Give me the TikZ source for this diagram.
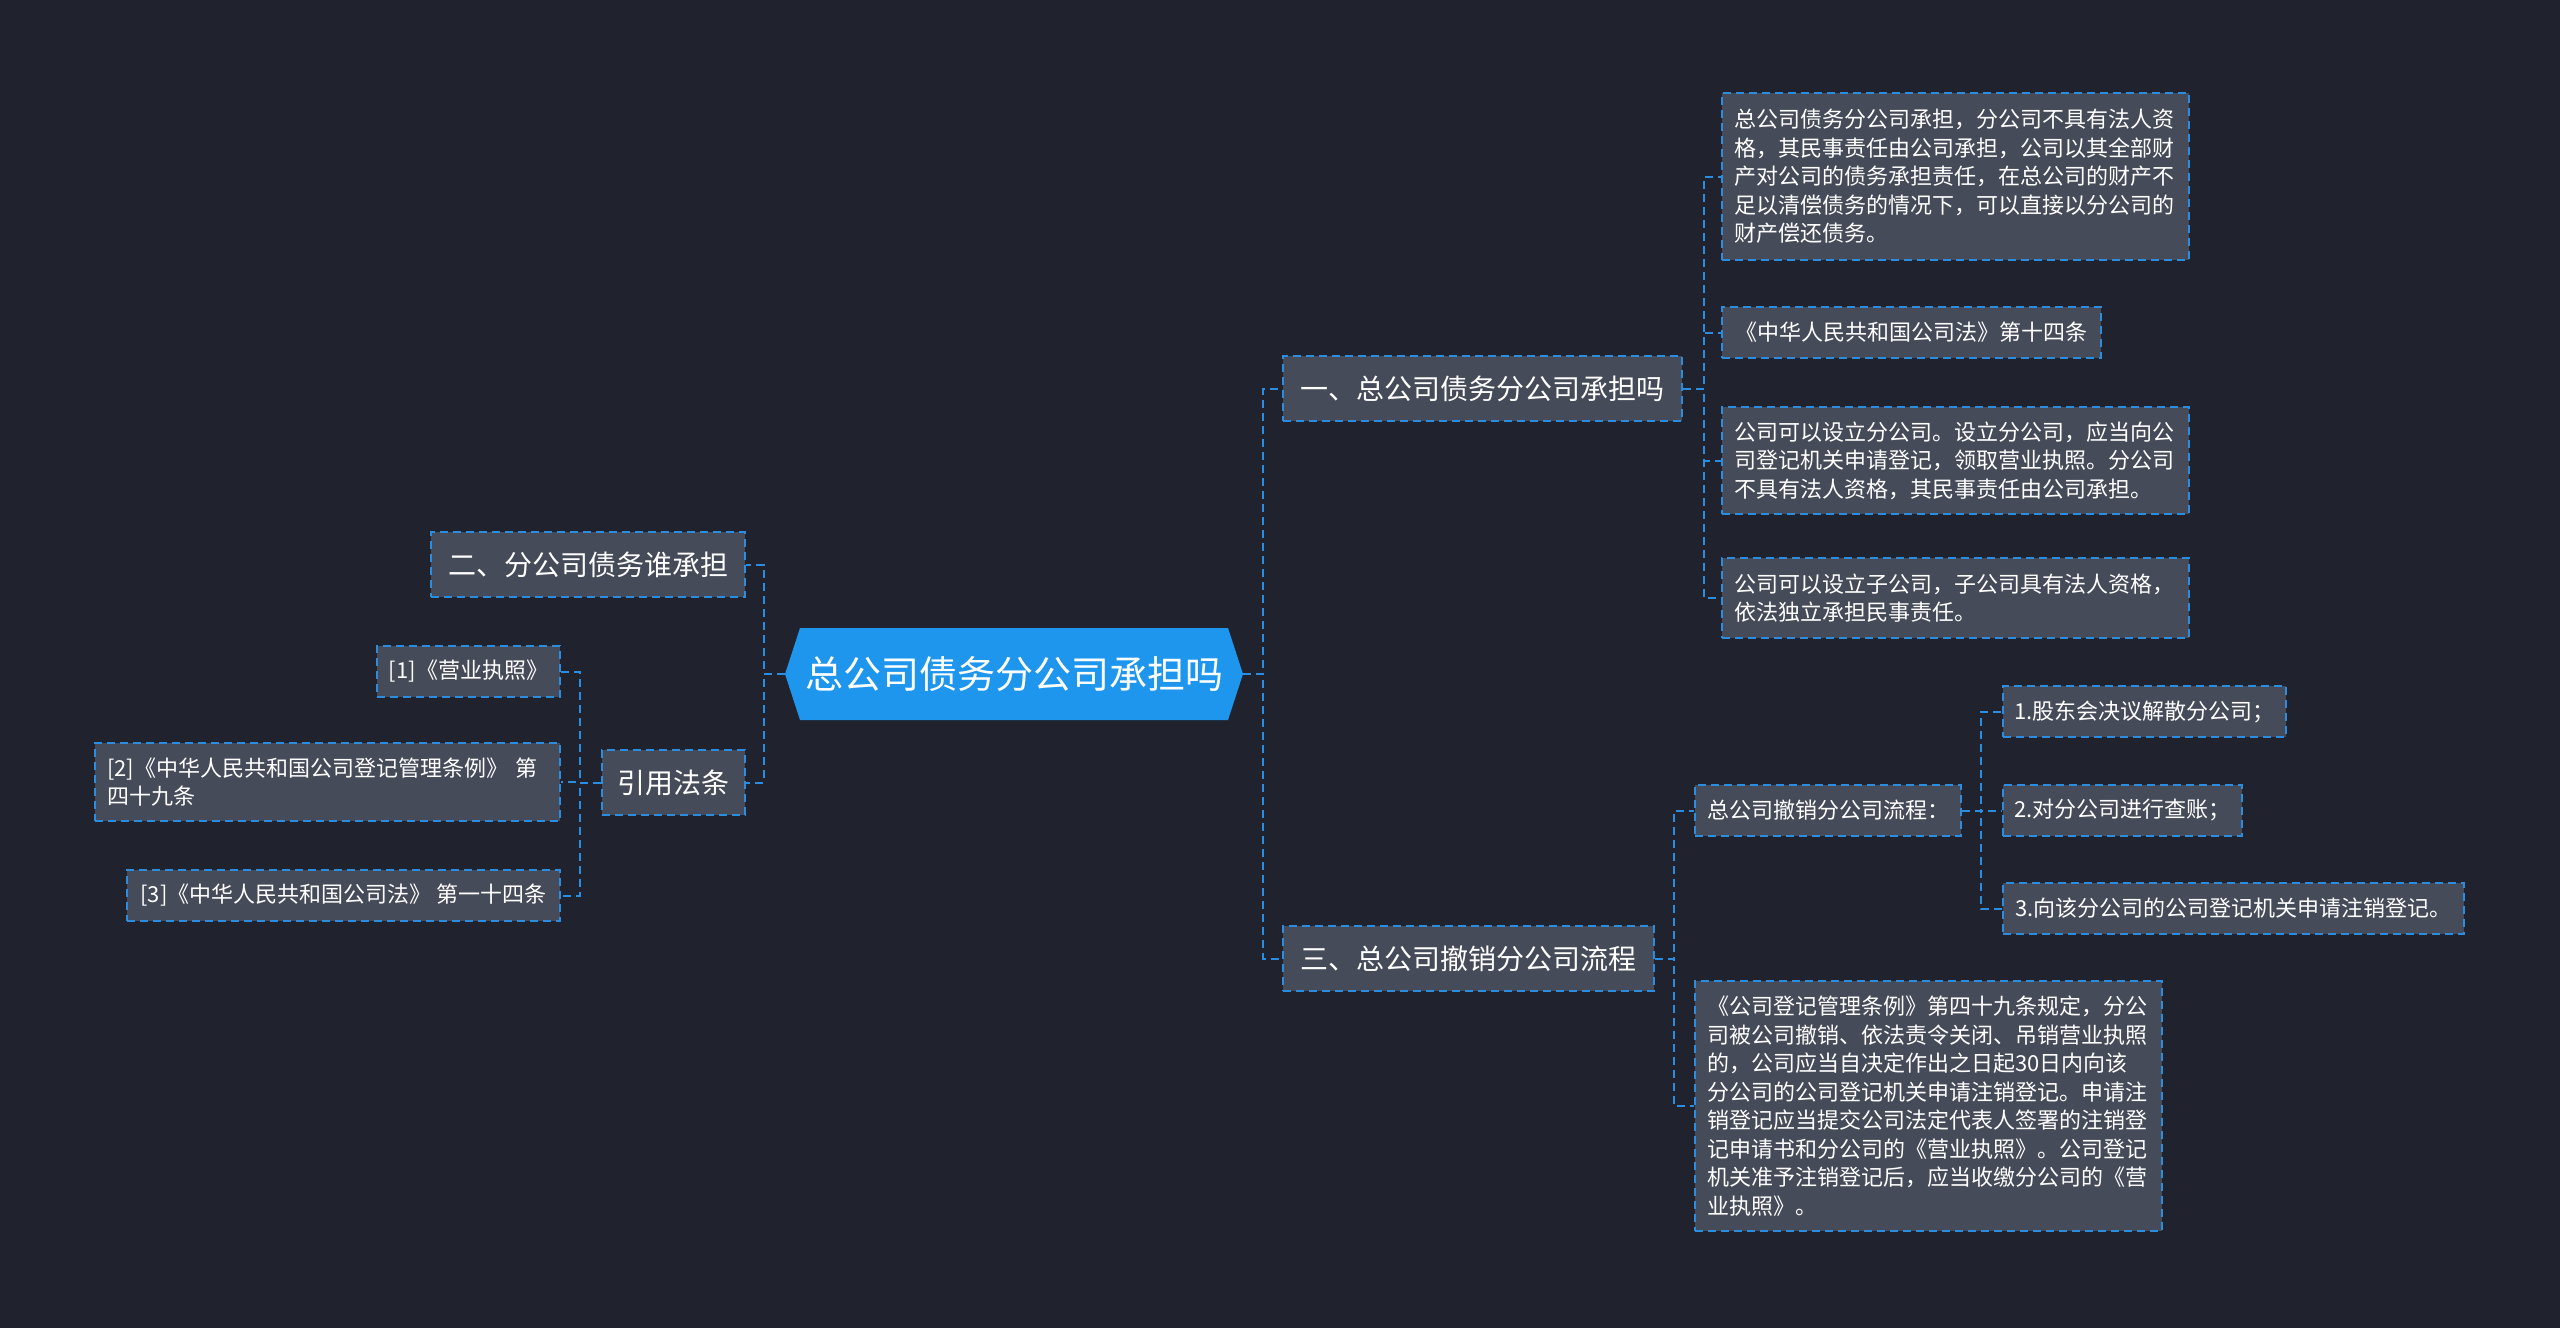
\documentclass[tikz,border=0pt]{standalone}
\usepackage{fontspec}
\setmainfont{Noto Sans CJK SC}
\definecolor{bgc}{HTML}{20232E}
\definecolor{boxc}{HTML}{464B59}
\definecolor{linec}{HTML}{2A8DE0}
\definecolor{rootc}{HTML}{1E96EE}
\tikzset{
  box/.style={draw=linec, line width=2pt, dash pattern=on 8pt off 5pt, fill=boxc, text=white, inner sep=0pt},
  small/.style={box, font=\fontsize{22}{28.5}\selectfont},
  para/.style={small, align=left, inner xsep=12pt, text width=#1},
  branch/.style={box, font=\fontsize{28}{34}\selectfont, minimum height=65pt},
  conn/.style={draw=linec, line width=2pt, dash pattern=on 8pt off 5pt},
  rootnode/.style={minimum width=458pt, minimum height=92pt, inner sep=0pt, fill=bgc, text=white,
    font=\fontsize{38}{44}\selectfont,
    path picture={\fill[rootc] (path picture bounding box.west)
      -- ([xshift=15pt]path picture bounding box.north west)
      -- ([xshift=-15pt]path picture bounding box.north east)
      -- (path picture bounding box.east)
      -- ([xshift=-15pt]path picture bounding box.south east)
      -- ([xshift=15pt]path picture bounding box.south west) -- cycle;}}
}
\begin{document}
\begin{tikzpicture}[x=1pt,y=-1pt]
\fill[bgc] (0,0) rectangle (2560,1328);
\useasboundingbox (0,0) rectangle (2560,1328);

\node[rootnode] (root) at (1014,674) {总公司债务分公司承担吗};

% right branches
\node[branch, minimum width=399pt] (b1) at (1482.5,388.5) {一、总公司债务分公司承担吗};
\node[branch, minimum width=371pt] (b3) at (1468.5,958.5) {三、总公司撤销分公司流程};
% left branches
\node[branch, minimum width=314pt] (b2) at (588,564.5) {二、分公司债务谁承担};
\node[branch, minimum width=143pt] (b4) at (673.5,782.5) {引用法条};

% children of b1
\node[para=443pt, minimum height=167pt] (c1) at (1955.5,176.5) {总公司债务分公司承担，分公司不具有法人资\\格，其民事责任由公司承担，公司以其全部财\\产对公司的债务承担责任，在总公司的财产不\\足以清偿债务的情况下，可以直接以分公司的\\财产偿还债务。};
\node[small, minimum width=379pt, minimum height=51pt] (c2) at (1911.5,332.5) {《中华人民共和国公司法》第十四条};
\node[para=443pt, minimum height=107pt] (c3) at (1955.5,460.5) {公司可以设立分公司。设立分公司，应当向公\\司登记机关申请登记，领取营业执照。分公司\\不具有法人资格，其民事责任由公司承担。};
\node[para=443pt, minimum height=80pt] (c4) at (1955.5,598) {公司可以设立子公司，子公司具有法人资格，\\依法独立承担民事责任。};

% children of b3
\node[small, minimum width=266pt, minimum height=51pt] (d1) at (1828,810.5) {总公司撤销分公司流程：};
\node[para=443pt, minimum height=250pt] (d2) at (1928.5,1106) {《公司登记管理条例》第四十九条规定，分公\\司被公司撤销、依法责令关闭、吊销营业执照\\的，公司应当自决定作出之日起30日内向该\\分公司的公司登记机关申请注销登记。申请注\\销登记应当提交公司法定代表人签署的注销登\\记申请书和分公司的《营业执照》。公司登记\\机关准予注销登记后，应当收缴分公司的《营\\业执照》。};

% children of d1
\node[small, minimum width=283pt, minimum height=51pt] (e1) at (2144.5,711.5) {1.股东会决议解散分公司；};
\node[small, minimum width=239pt, minimum height=51pt] (e2) at (2122.5,810.5) {2.对分公司进行查账；};
\node[small, minimum width=461pt, minimum height=51pt] (e3) at (2233.5,908.5) {3.向该分公司的公司登记机关申请注销登记。};

% children of b4
\node[small, minimum width=183pt, minimum height=51pt] (l1) at (468.5,671.5) {[1]《营业执照》};
\node[para=441pt, minimum height=78pt] (l2) at (327.5,782) {[2]《中华人民共和国公司登记管理条例》 第\\四十九条};
\node[small, minimum width=433pt, minimum height=51pt] (l3) at (343.5,895.5) {[3]《中华人民共和国公司法》 第一十四条};

% connectors
\draw[conn] (root.east) -- ++(20,0) |- (b1.west);
\draw[conn] (root.east) -- ++(20,0) |- (b3.west);
\draw[conn] (root.west) -- ++(-21,0) |- (b2.east);
\draw[conn] (root.west) -- ++(-21,0) |- (b4.east);

\draw[conn] (b1.east) -- ++(21,0) |- (c1.west);
\draw[conn] (b1.east) -- ++(21,0) |- (c2.west);
\draw[conn] (b1.east) -- ++(21,0) |- (c3.west);
\draw[conn] (b1.east) -- ++(21,0) |- (c4.west);

\draw[conn] (b3.east) -- ++(19,0) |- (d1.west);
\draw[conn] (b3.east) -- ++(19,0) |- (d2.west);

\draw[conn] (d1.east) -- ++(19,0) |- (e1.west);
\draw[conn] (d1.east) -- ++(19,0) |- (e2.west);
\draw[conn] (d1.east) -- ++(19,0) |- (e3.west);

\draw[conn] (b4.west) -- ++(-21,0) |- (l1.east);
\draw[conn] (b4.west) -- ++(-21,0) |- (l2.east);
\draw[conn] (b4.west) -- ++(-21,0) |- (l3.east);
\end{tikzpicture}
\end{document}
